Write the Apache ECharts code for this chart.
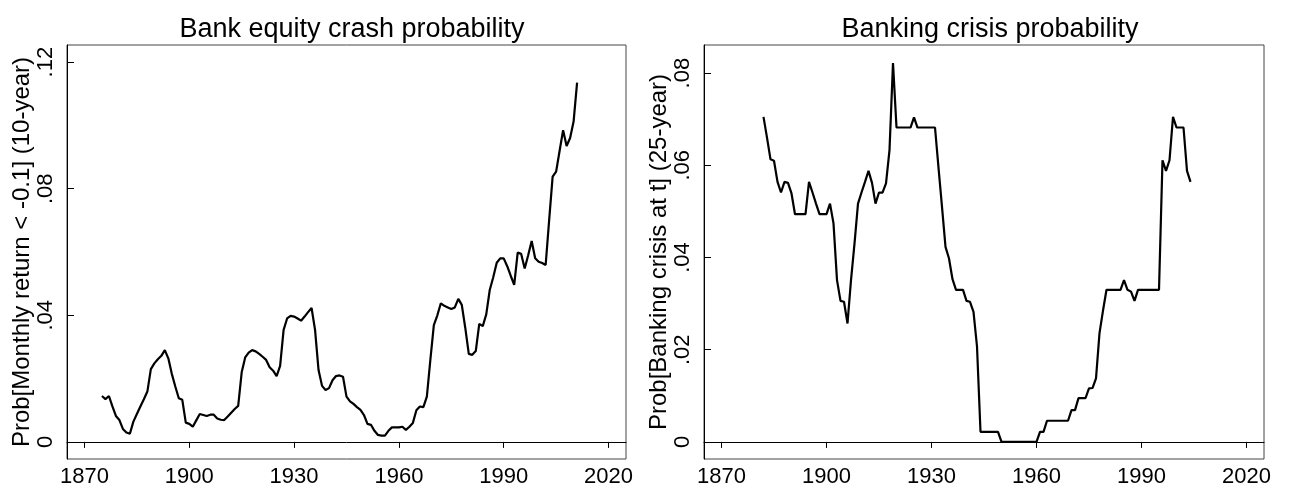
<!DOCTYPE html>
<html>
<head>
<meta charset="utf-8">
<script src="https://cdn.jsdelivr.net/npm/echarts@6/dist/echarts.min.js"></script>
<style>html,body{margin:0;padding:0;background:#fff}#c{width:1289px;height:492px}</style>
</head>
<body>
<div id="c"></div>
<script>
// ---- data ----
const xTicks = [1870, 1900, 1930, 1960, 1990, 2020];
const leftYTicks = [0, 0.04, 0.08, 0.12];
const rightYTicks = [0, 0.02, 0.04, 0.06, 0.08];

const leftTitle = 'Bank equity crash probability';
const rightTitle = 'Banking crisis probability';
const leftYName = 'Prob[Monthly return < -0.1] (10-year)';
const rightYName = 'Prob[Banking crisis at t] (25-year)';

const equityYears = [1875,1876,1877,1878,1879,1880,1881,1882,1883,1884,1885,1886,1887,1888,1889,1890,1891,1892,1893,1894,1895,1896,1897,1898,1899,1900,1901,1902,1903,1904,1905,1906,1907,1908,1909,1910,1911,1912,1913,1914,1915,1916,1917,1918,1919,1920,1921,1922,1923,1924,1925,1926,1927,1928,1929,1930,1931,1932,1933,1934,1935,1936,1937,1938,1939,1940,1941,1942,1943,1944,1945,1946,1947,1948,1949,1950,1951,1952,1953,1954,1955,1956,1957,1958,1959,1960,1961,1962,1963,1964,1965,1966,1967,1968,1969,1970,1971,1972,1973,1974,1975,1976,1977,1978,1979,1980,1981,1982,1983,1984,1985,1986,1987,1988,1989,1990,1991,1992,1993,1994,1995,1996,1997,1998,1999,2000,2001,2002,2003,2004,2005,2006,2007,2008,2009,2010,2011];
const equityProb = [.0145,.0135,.0145,.0112,.0082,.0069,.0041,.0030,.0026,.0064,.0088,.0112,.0135,.0159,.0230,.0248,.0261,.0272,.0290,.0264,.0215,.0175,.0138,.0133,.0061,.0057,.0048,.0068,.0088,.0085,.0082,.0086,.0086,.0074,.0070,.0069,.0080,.0092,.0104,.0114,.0220,.0267,.0282,.0290,.0286,.0278,.0269,.0259,.0236,.0225,.0208,.0240,.0354,.0390,.0398,.0396,.0390,.0383,.0396,.0410,.0423,.0354,.0227,.0177,.0164,.0170,.0195,.0208,.0210,.0206,.0143,.0128,.0120,.0110,.0101,.0085,.0057,.0054,.0035,.0022,.0020,.0020,.0035,.0046,.0046,.0046,.0048,.0038,.0048,.0060,.0100,.0112,.0110,.0143,.0259,.0369,.0400,.0438,.0430,.0425,.0420,.0425,.0452,.0433,.0360,.0278,.0275,.0287,.0373,.0366,.0403,.0480,.0520,.0566,.0580,.0580,.0555,.0525,.0496,.0598,.0594,.0548,.0590,.0635,.0580,.0569,.0565,.0559,.0700,.0838,.0854,.0920,.0985,.0935,.0960,.1012,.1135];

const crisisYears = [1882,1883,1884,1885,1886,1887,1888,1889,1890,1891,1892,1893,1894,1895,1896,1897,1898,1899,1900,1901,1902,1903,1904,1905,1906,1907,1908,1909,1910,1911,1912,1913,1914,1915,1916,1917,1918,1919,1920,1921,1922,1923,1924,1925,1926,1927,1928,1929,1930,1931,1932,1933,1934,1935,1936,1937,1938,1939,1940,1941,1942,1943,1944,1945,1946,1947,1948,1949,1950,1951,1952,1953,1954,1955,1956,1957,1958,1959,1960,1961,1962,1963,1964,1965,1966,1967,1968,1969,1970,1971,1972,1973,1974,1975,1976,1977,1978,1979,1980,1981,1982,1983,1984,1985,1986,1987,1988,1989,1990,1991,1992,1993,1994,1995,1996,1997,1998,1999,2000,2001,2002,2003,2004];
const crisisProb = [.0705,.0660,.0613,.0610,.0564,.0541,.0564,.0562,.0539,.0494,.0494,.0494,.0494,.0564,.0541,.0517,.0494,.0494,.0494,.0517,.0474,.0351,.0306,.0304,.0257,.0351,.0430,.0517,.0541,.0564,.0588,.0562,.0517,.0541,.0541,.0561,.0633,.0822,.0682,.0682,.0682,.0682,.0682,.0704,.0682,.0682,.0682,.0682,.0682,.0682,.0595,.0510,.0423,.0398,.0353,.0330,.0330,.0330,.0306,.0304,.0282,.0207,.0022,.0022,.0022,.0022,.0022,.0022,0,0,0,0,0,0,0,0,0,0,0,.0022,.0022,.0046,.0046,.0046,.0046,.0046,.0046,.0046,.0069,.0069,.0095,.0095,.0095,.0116,.0117,.0138,.0236,.0285,.0330,.0330,.0330,.0330,.0330,.0351,.0330,.0326,.0306,.0330,.0330,.0330,.0330,.0330,.0330,.0330,.0611,.0588,.0611,.0705,.0682,.0682,.0682,.0588,.0564];

// ---- chart ----
const FONT = 'Liberation Sans, Arial, sans-serif';
const fmt = v => v === 0 ? '0' : v.toFixed(2).replace(/^0/, '');
const zip = (a, b) => a.map((x, i) => [x, b[i]]);

function xAxisCfg(idx) {
  return {
    type: 'value', gridIndex: idx, min: 1865, max: 2025,
    axisLine: {show: true, lineStyle: {color: '#000', width: 1}},
    axisTick: {show: true, inside: false, length: 6, customValues: xTicks, lineStyle: {color: '#000'}},
    axisLabel: {customValues: xTicks, margin: 7, fontSize: 22, color: '#000', fontFamily: FONT, formatter: v => String(v)},
    splitLine: {show: false}
  };
}
function yAxisCfg(idx, min, max, ticks, name, gap) {
  return {
    type: 'value', gridIndex: idx, min: min, max: max,
    name: name, nameLocation: 'middle', nameRotate: 90, nameGap: gap,
    nameTextStyle: {fontSize: 24, color: '#000', fontFamily: FONT},
    axisLine: {show: true, lineStyle: {color: '#000', width: 1}},
    axisTick: {show: true, inside: true, length: 7, customValues: ticks, lineStyle: {color: '#000'}},
    axisLabel: {customValues: ticks, rotate: 90, margin: 10, fontSize: 22, color: '#000', fontFamily: FONT, formatter: fmt},
    splitLine: {show: false}
  };
}

const chart = echarts.init(document.getElementById('c'), null, {renderer: 'canvas'});
chart.setOption({
  animation: false,
  backgroundColor: '#fff',
  title: [
    {text: leftTitle, left: 347, top: 11, textAlign: 'center', textStyle: {fontSize: 27, fontWeight: 'normal', color: '#000', fontFamily: FONT}},
    {text: rightTitle, left: 985, top: 11, textAlign: 'center', textStyle: {fontSize: 27, fontWeight: 'normal', color: '#000', fontFamily: FONT}}
  ],
  grid: [
    {left: 67, top: 45, width: 559, height: 414, show: true, borderColor: '#444', borderWidth: 1, backgroundColor: 'transparent'},
    {left: 704, top: 45, width: 560, height: 414, show: true, borderColor: '#444', borderWidth: 1, backgroundColor: 'transparent'}
  ],
  xAxis: [xAxisCfg(0), xAxisCfg(1)],
  yAxis: [
    yAxisCfg(0, -0.0054, 0.1254, leftYTicks, leftYName, 33),
    yAxisCfg(1, -0.0037, 0.0861, rightYTicks, rightYName, 30)
  ],
  series: [
    {type: 'line', xAxisIndex: 0, yAxisIndex: 0, data: zip(equityYears, equityProb), showSymbol: false, symbol: 'none', lineStyle: {color: '#000', width: 2.2}},
    {type: 'line', xAxisIndex: 1, yAxisIndex: 1, data: zip(crisisYears, crisisProb), showSymbol: false, symbol: 'none', lineStyle: {color: '#000', width: 2.2}}
  ]
});
</script>
</body>
</html>
